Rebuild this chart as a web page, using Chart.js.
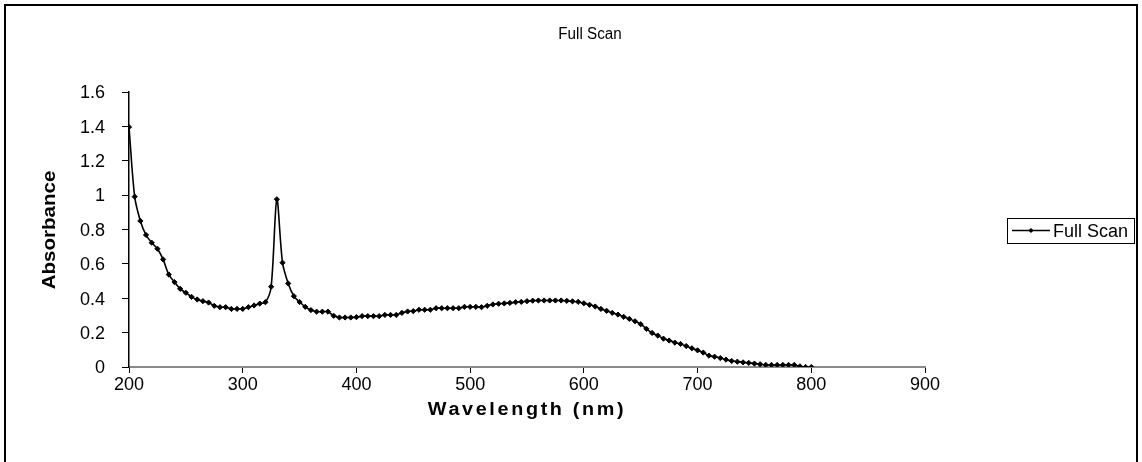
<!DOCTYPE html>
<html>
<head>
<meta charset="utf-8">
<title>Full Scan</title>
<script src="https://cdn.jsdelivr.net/npm/chart.js@4/dist/chart.umd.min.js"></script>
<style>
  html, body { margin: 0; padding: 0; background: #fff; overflow: hidden; }
  #frame { position: relative; width: 1142px; height: 462px; }
  canvas { display: block; }
</style>
</head>
<body>
<div id="frame"><canvas id="scan" width="1142" height="462"></canvas></div>
<script>
// Absorption spectrum, sampled every 5 nm
const wavelengths = [
  200, 205, 210, 215, 220, 225, 230, 235, 240, 245,
  250, 255, 260, 265, 270, 275, 280, 285, 290, 295,
  300, 305, 310, 315, 320, 325, 330, 335, 340, 345,
  350, 355, 360, 365, 370, 375, 380, 385, 390, 395,
  400, 405, 410, 415, 420, 425, 430, 435, 440, 445,
  450, 455, 460, 465, 470, 475, 480, 485, 490, 495,
  500, 505, 510, 515, 520, 525, 530, 535, 540, 545,
  550, 555, 560, 565, 570, 575, 580, 585, 590, 595,
  600, 605, 610, 615, 620, 625, 630, 635, 640, 645,
  650, 655, 660, 665, 670, 675, 680, 685, 690, 695,
  700, 705, 710, 715, 720, 725, 730, 735, 740, 745,
  750, 755, 760, 765, 770, 775, 780, 785, 790, 795,
  800
];
const absorbance = [
  1.396, 0.991, 0.850, 0.768, 0.723, 0.688, 0.626, 0.538, 0.494, 0.455,
  0.432, 0.408, 0.393, 0.383, 0.375, 0.356, 0.348, 0.348, 0.338, 0.338,
  0.338, 0.348, 0.358, 0.369, 0.377, 0.467, 0.976, 0.607, 0.486, 0.412,
  0.378, 0.350, 0.331, 0.322, 0.322, 0.322, 0.298, 0.288, 0.288, 0.288,
  0.290, 0.296, 0.296, 0.296, 0.296, 0.303, 0.303, 0.303, 0.315, 0.323,
  0.325, 0.333, 0.333, 0.333, 0.342, 0.342, 0.342, 0.342, 0.342, 0.350,
  0.350, 0.350, 0.348, 0.356, 0.364, 0.368, 0.370, 0.373, 0.377, 0.379,
  0.383, 0.386, 0.387, 0.387, 0.387, 0.387, 0.387, 0.385, 0.382, 0.379,
  0.371, 0.362, 0.352, 0.338, 0.327, 0.315, 0.305, 0.292, 0.280, 0.266,
  0.249, 0.222, 0.198, 0.183, 0.165, 0.154, 0.142, 0.134, 0.122, 0.109,
  0.097, 0.084, 0.066, 0.060, 0.052, 0.043, 0.035, 0.031, 0.027, 0.024,
  0.020, 0.016, 0.012, 0.012, 0.012, 0.012, 0.012, 0.012, 0.004, 0.000,
  0.000
];
const xTickValues = [200, 300, 400, 500, 600, 700, 800, 900];
const yTickValues = [0, 0.2, 0.4, 0.6, 0.8, 1, 1.2, 1.4, 1.6];
const yTickLabels = ['0', '0.2', '0.4', '0.6', '0.8', '1', '1.2', '1.4', '1.6'];

const seriesName = 'Full Scan';
const chartTitle = 'Full Scan';
const xAxisTitle = 'Wavelength (nm)';
const yAxisTitle = 'Absorbance';

const FONT = '"Liberation Sans", Arial, sans-serif';

function text(ctx, str, x, y, font, align, opts) {
  opts = opts || {};
  ctx.save();
  ctx.translate(x, y);
  if (opts.rotate) ctx.rotate(opts.rotate);
  if (opts.sx) ctx.scale(opts.sx, 1);
  ctx.font = font;
  ctx.textAlign = align;
  ctx.textBaseline = 'alphabetic';
  ctx.fillStyle = '#000';
  if (opts.spacing && 'letterSpacing' in ctx) ctx.letterSpacing = opts.spacing + 'px';
  ctx.fillText(str, 0, 0);
  ctx.restore();
}

const decorations = {
  id: 'decorations',
  afterDraw(chart) {
    const ctx = chart.ctx;
    const xs = chart.scales.x;
    const ys = chart.scales.y;
    const area = chart.chartArea;

    // outer frame of the chart object
    ctx.save();
    ctx.strokeStyle = '#000';
    ctx.lineWidth = 2;
    ctx.beginPath();
    ctx.moveTo(5, 470);
    ctx.lineTo(5, 5);
    ctx.lineTo(1137, 5);
    ctx.lineTo(1137, 470);
    ctx.stroke();
    ctx.restore();

    // title
    text(ctx, chartTitle, 590, 39, '16px ' + FONT, 'center', { sx: 0.95 });

    // y tick labels
    yTickValues.forEach((v, i) => {
      text(ctx, yTickLabels[i], 105, ys.getPixelForValue(v) + 6.3, '18px ' + FONT, 'right');
    });
    // x tick labels
    xTickValues.forEach(v => {
      text(ctx, String(v), xs.getPixelForValue(v), 389.5, '18px ' + FONT, 'center');
    });

    // axis titles
    text(ctx, xAxisTitle, (area.left + area.right) / 2, 414.5, 'bold 18px ' + FONT, 'center', { sx: 1.1, spacing: 2.4 });
    text(ctx, yAxisTitle, 55, 230, 'bold 19px ' + FONT, 'center', { rotate: -Math.PI / 2, sx: 1.08 });

    // legend
    const lx = 1007, ly = 218, lw = 127, lh = 25;
    ctx.save();
    ctx.strokeStyle = '#000';
    ctx.lineWidth = 1;
    ctx.strokeRect(lx + 0.5, ly + 0.5, lw, lh);
    const sy = ly + 12.5;
    ctx.lineWidth = 1.6;
    ctx.beginPath();
    ctx.moveTo(lx + 5, sy);
    ctx.lineTo(lx + 43, sy);
    ctx.stroke();
    ctx.fillStyle = '#000';
    const mx = lx + 24;
    ctx.beginPath();
    ctx.moveTo(mx - 2.6, sy);
    ctx.lineTo(mx, sy - 2.6);
    ctx.lineTo(mx + 2.6, sy);
    ctx.lineTo(mx, sy + 2.6);
    ctx.closePath();
    ctx.fill();
    ctx.restore();
    text(ctx, seriesName, lx + 46, sy + 6.5, '18px ' + FONT, 'left');
  }
};

new Chart(document.getElementById('scan'), {
  type: 'line',
  data: {
    datasets: [{
      label: seriesName,
      data: wavelengths.map((w, i) => ({ x: w, y: absorbance[i] })),
      borderColor: '#000',
      backgroundColor: '#000',
      borderWidth: 1.6,
      pointStyle: 'rectRot',
      pointRadius: 2.6,
      pointBorderWidth: 1,
      pointBackgroundColor: '#000',
      pointBorderColor: '#000',
      tension: 0.3,
      fill: false
    }]
  },
  options: {
    responsive: false,
    animation: false,
    devicePixelRatio: 1,
    layout: { padding: { top: 92, right: 217, bottom: 0, left: 0 } },
    plugins: {
      legend: { display: false },
      title: { display: false },
      tooltip: { enabled: false }
    },
    scales: {
      x: {
        type: 'linear',
        min: 200,
        max: 900,
        afterBuildTicks: s => { s.ticks = xTickValues.map(v => ({ value: v })); },
        afterFit: s => { s.height = 95; },
        ticks: { display: false },
        grid: { drawOnChartArea: false, drawTicks: true, tickLength: 6, tickColor: '#000', tickWidth: 1 },
        border: { display: true, color: '#8a8a8a', width: 2 }
      },
      y: {
        type: 'linear',
        min: 0,
        max: 1.6,
        afterBuildTicks: s => { s.ticks = yTickValues.map(v => ({ value: v })); },
        afterFit: s => { s.width = 129; },
        ticks: { display: false },
        grid: { drawOnChartArea: false, drawTicks: true, tickLength: 7, tickColor: '#000', tickWidth: 1 },
        border: { display: true, color: '#000', width: 1.5 }
      }
    }
  },
  plugins: [decorations]
});
</script>
</body>
</html>
